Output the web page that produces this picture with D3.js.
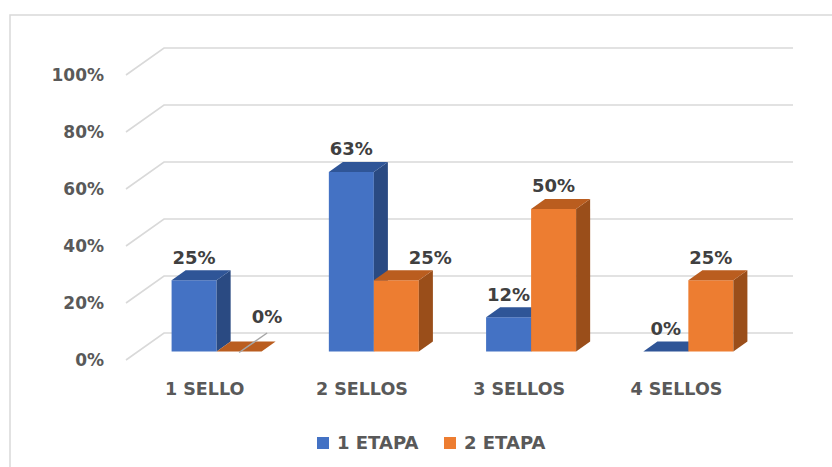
<!DOCTYPE html>
<html>
<head>
<meta charset="utf-8">
<script src="https://cdn.jsdelivr.net/npm/d3@7"></script>
<style>
  body { margin: 0; background: #fff; }
  svg { display: block; font-family: "DejaVu Sans", sans-serif; font-weight: bold; }
</style>
</head>
<body>
<svg id="chart" width="832" height="467"></svg>
<script>
var categories = ["1 SELLO", "2 SELLOS", "3 SELLOS", "4 SELLOS"];
var series = ["1 ETAPA", "2 ETAPA"];
var etapa1 = [25, 63, 12, 0];
var etapa2 = [0, 25, 50, 25];
var yTicks = [0, 20, 40, 60, 80, 100];

var colors = {
  "1 ETAPA": { front: "#4472C4", top: "#2F5597", side: "#2A4A82" },
  "2 ETAPA": { front: "#ED7D31", top: "#BA5D1F", side: "#9A4E1A" }
};

// oblique 3d: one depth unit moves the point by (depthX, -depthY)
var depthX = 38, depthY = 27;
var floorY = 360;
var barZ0 = 0.315, barZ1 = 0.685;
var barWidth = 45;

// labels that were dragged by hand in the original (bar index -> shift, leader line)
var movedLabels = {
  1: { dx: 28, dy: -12, leader: true },
  3: { dx: 34, dy: 0, leader: false }
};

var svg = d3.select("#chart");

var x = d3.scaleBand().domain(categories).range([126, 755]);
var xs = d3.scaleBand().domain(series).range([-barWidth, barWidth]);
var y = d3.scaleLinear().domain([0, 100]).range([0, 285]);

function proj(px, v, z) {
  return [px + depthX * z, floorY - y(v) - depthY * z];
}

// outer frame
svg.append("path")
    .attr("d", "M10,467V15H832")
    .attr("fill", "none")
    .attr("stroke", "#d9d9d9")
    .attr("stroke-width", 1.5);

// gridlines: back wall and left floor edge
var grid = svg.append("g").attr("stroke", "#d9d9d9").attr("stroke-width", 1.6).attr("fill", "none");
yTicks.forEach(function (t) {
  var a = proj(x.range()[0], t, 0), b = proj(x.range()[0], t, 1), c = proj(x.range()[1], t, 1);
  grid.append("path").attr("d", "M" + a + "L" + b + "L" + c);
});

// y tick labels
svg.append("g").selectAll("text")
    .data(yTicks)
    .enter().append("text")
    .attr("x", 104)
    .attr("y", function (d) { return proj(0, d, 0)[1] + 6; })
    .attr("text-anchor", "end")
    .attr("font-size", 17)
    .attr("fill", "#595959")
    .text(function (d) { return d + "%"; });

// bars
var bars = [];
categories.forEach(function (c, i) {
  bars.push({ cat: c, s: series[0], v: etapa1[i] });
  bars.push({ cat: c, s: series[1], v: etapa2[i] });
});

var barG = svg.append("g");
bars.forEach(function (d) {
  var x0 = x(d.cat) + x.bandwidth() / 2 + xs(d.s);
  var x1 = x0 + xs.bandwidth();
  var col = colors[d.s];
  var fb0 = proj(x0, 0, barZ0), fb1 = proj(x1, 0, barZ0);
  var ft0 = proj(x0, d.v, barZ0), ft1 = proj(x1, d.v, barZ0);
  var bt0 = proj(x0, d.v, barZ1), bt1 = proj(x1, d.v, barZ1), bb1 = proj(x1, 0, barZ1);
  d.cx = (ft0[0] + ft1[0]) / 2;
  d.top = ft0[1];
  if (d.v > 0) {
    barG.append("path").attr("fill", col.front)
        .attr("d", "M" + fb0 + "L" + fb1 + "L" + ft1 + "L" + ft0 + "Z");
    barG.append("path").attr("fill", col.side)
        .attr("d", "M" + fb1 + "L" + bb1 + "L" + bt1 + "L" + ft1 + "Z");
  }
  barG.append("path").attr("fill", col.top)
      .attr("d", "M" + ft0 + "L" + ft1 + "L" + bt1 + "L" + bt0 + "Z");
});

// value labels
var labelG = svg.append("g");
bars.forEach(function (d, i) {
  var lx = d.cx, ly = d.top - 16.5;
  var m = movedLabels[i];
  if (m) {
    lx += m.dx; ly += m.dy;
    if (m.leader) {
      labelG.append("line")
          .attr("x1", d.cx).attr("y1", d.top + 1)
          .attr("x2", lx).attr("y2", ly + 10)
          .attr("stroke", "#a6a6a6").attr("stroke-width", 1.5);
    }
  }
  labelG.append("text")
      .attr("x", lx)
      .attr("y", ly)
      .attr("text-anchor", "middle")
      .attr("font-size", 18)
      .attr("fill", "#404040")
      .text(d.v + "%");
});

// category labels
svg.append("g").selectAll("text")
    .data(categories)
    .enter().append("text")
    .attr("x", function (d) { return x(d) + x.bandwidth() / 2; })
    .attr("y", 395)
    .attr("text-anchor", "middle")
    .attr("font-size", 17.5)
    .attr("fill", "#595959")
    .text(function (d) { return d; });

// legend
var legend = svg.append("g").selectAll("g")
    .data(series)
    .enter().append("g")
    .attr("transform", function (d, i) { return "translate(" + (317 + i * 127) + ",437)"; });
legend.append("rect")
    .attr("width", 12).attr("height", 12)
    .attr("fill", function (d) { return colors[d].front; });
legend.append("text")
    .attr("x", 20).attr("y", 12)
    .attr("font-size", 18)
    .attr("fill", "#595959")
    .text(function (d) { return d; });
</script>
</body>
</html>
